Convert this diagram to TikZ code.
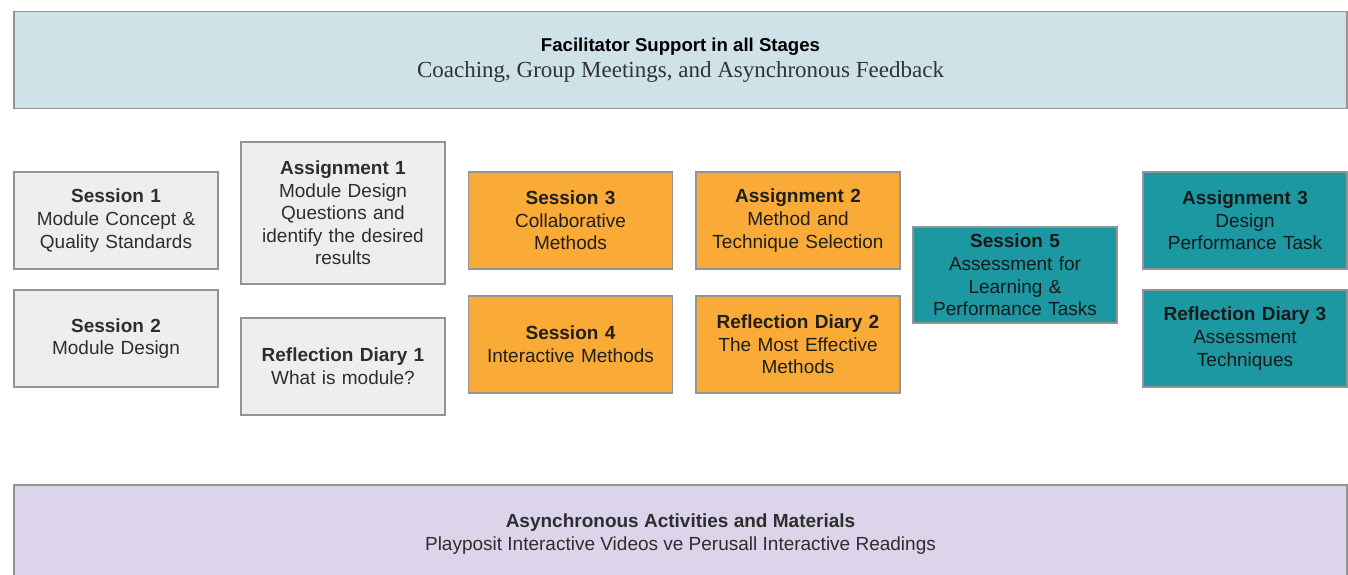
\documentclass[tikz,border=0pt]{standalone}
\usepackage{fontspec}
\setmainfont{Liberation Serif}
\newfontfamily\arialfont{Liberation Sans}
\begin{document}
\begin{tikzpicture}[x=1pt,y=-1pt,
  boxtext/.style={font=\arialfont\fontsize{19}{22.6}\selectfont, text=black!82, align=center},
  card/.style={boxtext, draw=black!42, line width=1.1pt, inner sep=0pt,
    minimum width=204pt, minimum height=97pt, text width=198pt},
  greycard/.style={card, fill=gray!13},
  orangecard/.style={card, fill=orangefill, text=black!88},
  tealcard/.style={card, fill=tealfill, text=black!90},
  banner/.style={draw=black!42, line width=1.1pt, inner sep=0pt, align=center,
    minimum width=1333pt}
]
\definecolor{orangefill}{HTML}{F9AA37}
\definecolor{tealfill}{HTML}{1C98A3}
\definecolor{bluefill}{HTML}{CFE2E7}
\definecolor{lavfill}{HTML}{DCD4EA}

\useasboundingbox[fill=white] (0,0) rectangle (1348,575);

% support banner across the top
\node[banner, fill=bluefill, minimum height=97pt, font=\fontsize{19}{26.5}\selectfont] (support) at (680.5,60)
  {{\arialfont\bfseries\fontsize{18.6}{26.5}\selectfont Facilitator Support in all Stages}\\
   {\fontsize{23}{26.5}\selectfont\color{black!80} Coaching, Group Meetings, and Asynchronous Feedback}};

% stage 1: grey cards
\node[greycard] (s1) at (116,220.5) {\textbf{Session 1}\\Module Concept \&\\Quality Standards};
\node[greycard] (s2) at (116,338.5) {\textbf{Session 2}\\Module Design};
\node[greycard, minimum height=142pt] (a1) at (343,213)
  {\textbf{Assignment 1}\\Module Design\\Questions and\\identify the desired\\results};
\node[greycard] (r1) at (343,366.5) {\textbf{Reflection Diary 1}\\What is module?};

% stage 2: orange cards
\node[orangecard] (s3) at (570.5,220.5) {\textbf{Session 3}\\Collaborative\\Methods};
\node[orangecard] (s4) at (570.5,344.5) {\textbf{Session 4}\\Interactive Methods};
\node[orangecard] (a2) at (798,220.5) {\textbf{Assignment 2}\\Method and\\Technique Selection};
\node[orangecard] (r2) at (798,344.5) {\textbf{Reflection Diary 2}\\The Most Effective\\Methods};

% stage 3: teal cards
\node[tealcard, minimum height=96pt] (s5) at (1015,275)
  {\textbf{Session 5}\\Assessment for\\Learning \&\\Performance Tasks};
\node[tealcard] (a3) at (1245,220.5) {\textbf{Assignment 3}\\Design\\Performance Task};
\node[tealcard] (r3) at (1245,338.5) {\textbf{Reflection Diary 3}\\Assessment\\Techniques};

% asynchronous banner along the bottom (runs past the lower edge)
\node[banner, fill=lavfill, minimum height=98pt, boxtext] (async) at (680.5,534)
  {\textbf{Asynchronous Activities and Materials}\\Playposit Interactive Videos ve Perusall Interactive Readings};
\end{tikzpicture}
\end{document}
